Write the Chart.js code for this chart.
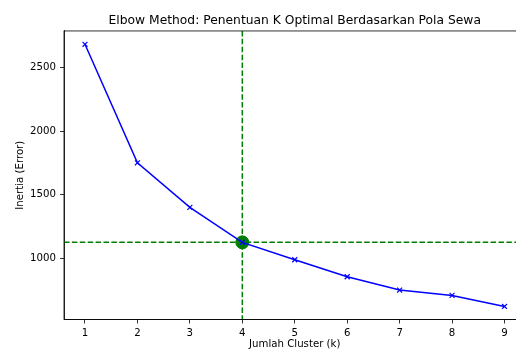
<!DOCTYPE html>
<html>
<head>
<meta charset="utf-8">
<script src="https://cdn.jsdelivr.net/npm/chart.js@4"></script>
<style>
  html, body { margin: 0; padding: 0; background: #fff; overflow: hidden; }
  #wrap { width: 516px; height: 350px; overflow: hidden; }
  #elbowChart { width: 533px; height: 350px; display: block; }
</style>
</head>
<body>
<div id="wrap"><canvas id="elbowChart" width="533" height="350"></canvas></div>
<script>
// jumlah cluster dan nilai inertia
const clusterCounts = [1, 2, 3, 4, 5, 6, 7, 8, 9];
const inertiaValues = [2685, 1751, 1400, 1124, 987, 853, 748, 706, 619];
const yTickValues = [1000, 1500, 2000, 2500];
const optimalK = 4;

const optimalInertia = inertiaValues[clusterCounts.indexOf(optimalK)];
const font = 'DejaVu Sans';

// garis putus-putus hijau + bingkai atas
const guidePlugin = {
  id: 'guides',
  beforeDatasetsDraw(chart) {
    const {ctx, chartArea: a, scales: {x, y}} = chart;
    const px = x.getPixelForValue(optimalK);
    const py = y.getPixelForValue(optimalInertia);
    ctx.save();
    ctx.strokeStyle = '#008000';
    ctx.lineWidth = 1.5;
    ctx.setLineDash([5.5, 2.4]);
    ctx.beginPath();
    ctx.moveTo(px, a.top); ctx.lineTo(px, a.bottom);
    ctx.moveTo(a.left, py); ctx.lineTo(a.right, py);
    ctx.stroke();
    ctx.restore();
  },
  afterDraw(chart) {
    const {ctx, chartArea: a} = chart;
    ctx.save();
    ctx.strokeStyle = '#000';
    ctx.lineWidth = 0.8;
    ctx.strokeRect(a.left, a.top, a.right - a.left, a.bottom - a.top);
    ctx.restore();
  }
};

new Chart(document.getElementById('elbowChart'), {
  type: 'line',
  data: {
    datasets: [
      {
        label: 'inertia',
        data: clusterCounts.map((k, i) => ({x: k, y: inertiaValues[i]})),
        borderColor: '#0000ff',
        backgroundColor: '#0000ff',
        borderWidth: 1.5,
        pointStyle: 'crossRot',
        pointRadius: 3.5,
        pointBorderWidth: 1.2,
        pointBorderColor: '#0000ff',
        tension: 0,
        order: 0
      },
      {
        label: 'optimal',
        data: [{x: optimalK, y: optimalInertia}],
        showLine: false,
        pointRadius: 6.5,
        pointBackgroundColor: '#008000',
        pointBorderColor: '#008000',
        order: 1
      }
    ]
  },
  options: {
    responsive: false,
    animation: false,
    layout: { padding: { right: 3.2 } },
    plugins: {
      legend: { display: false },
      tooltip: { enabled: false },
      title: {
        display: true,
        fullSize: false,
        text: 'Elbow Method: Penentuan K Optimal Berdasarkan Pola Sewa',
        color: '#000',
        font: { family: font, size: 12.3, weight: 'normal' },
        padding: { top: 13, bottom: 3.2 }
      }
    },
    scales: {
      x: {
        type: 'linear',
        min: 0.6,
        max: 9.4,
        afterBuildTicks: s => { s.ticks = clusterCounts.map(v => ({value: v})); },
        afterFit: s => { s.height = 30.5; },
        grid: { drawOnChartArea: false, drawTicks: true, tickLength: 4, tickColor: '#000', tickWidth: 0.8 },
        border: { color: '#000', width: 0.8 },
        ticks: { color: '#000', padding: 4, font: { family: font, size: 10.2 }, maxRotation: 0, callback: v => String(v) },
        title: { display: true, text: 'Jumlah Cluster (k)', color: '#000', font: { family: font, size: 10.2 }, padding: { top: 0, bottom: 0 } }
      },
      y: {
        min: 516,
        max: 2790,
        afterBuildTicks: s => { s.ticks = yTickValues.map(v => ({value: v})); },
        afterFit: s => { s.width = 64; },
        grid: { drawOnChartArea: false, drawTicks: true, tickLength: 4, tickColor: '#000', tickWidth: 0.8 },
        border: { color: '#000', width: 0.8 },
        ticks: { color: '#000', padding: 4, font: { family: font, size: 10.2 }, callback: v => String(v) },
        title: { display: true, text: 'Inertia (Error)', color: '#000', font: { family: font, size: 10.2 }, padding: { top: 14, bottom: 0 } }
      }
    }
  },
  plugins: [guidePlugin]
});
</script>
</body>
</html>
